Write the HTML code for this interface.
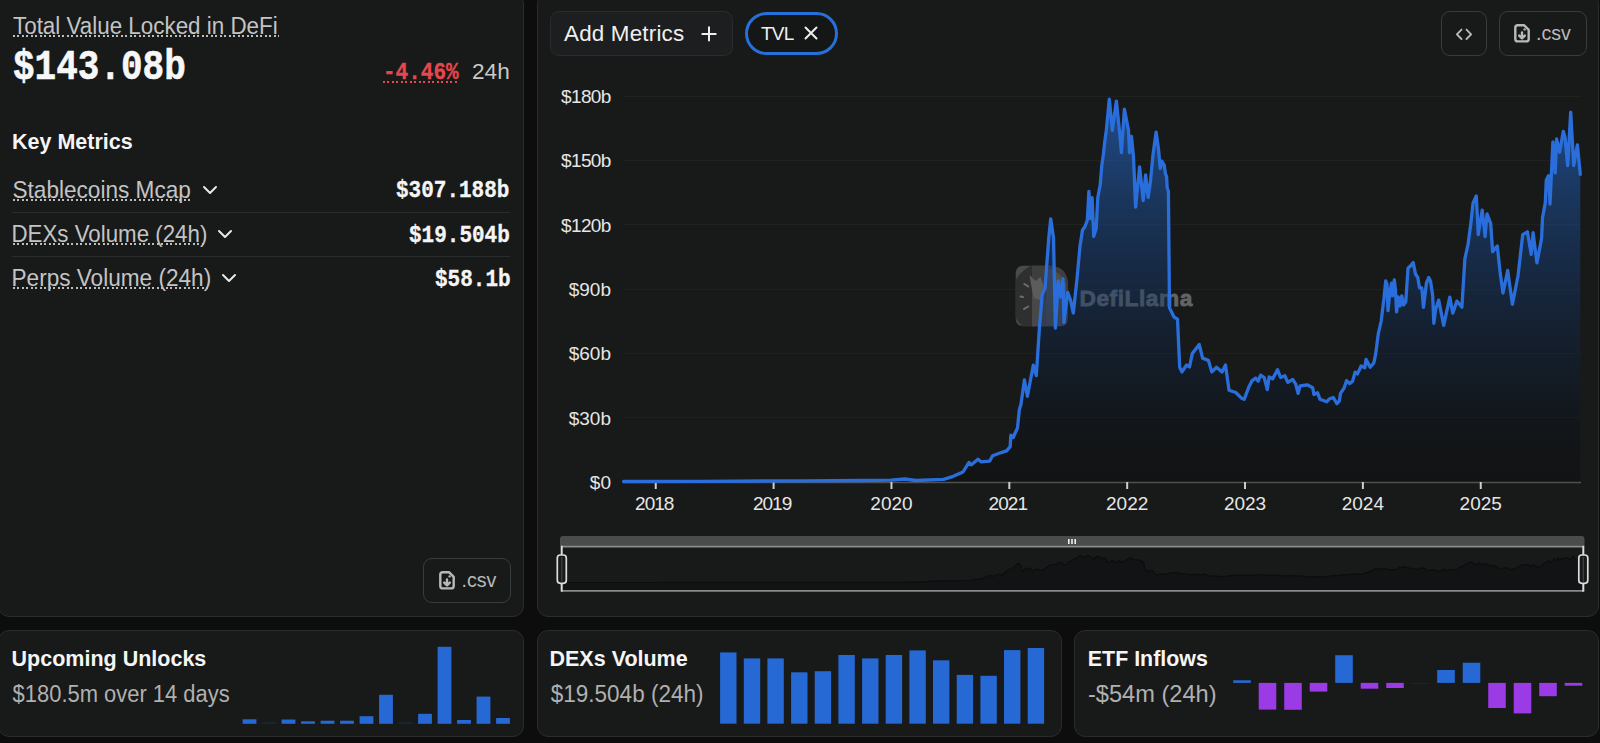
<!DOCTYPE html>
<html><head><meta charset="utf-8">
<style>
html,body{margin:0;padding:0;}
body{width:1600px;height:743px;overflow:hidden;background:#0c0d0c;position:relative;font-family:"Liberation Sans",sans-serif;}
.card{position:absolute;background:#181919;border:1px solid #2a2b2d;border-radius:11px;box-sizing:border-box;}
.t{position:absolute;white-space:nowrap;line-height:1;}
.mono{font-family:"Liberation Mono",monospace;font-weight:bold;}
.dots{position:absolute;height:2px;background:repeating-linear-gradient(90deg,#bdbdbd 0 2px,transparent 2px 4.5px);}
.btn{position:absolute;box-sizing:border-box;border-radius:9px;}
</style></head><body>

<!-- cards -->
<div class="card" style="left:-2px;top:-7px;width:525.5px;height:624px;"></div>
<div class="card" style="left:537px;top:-7px;width:1062px;height:624px;"></div>
<div class="card" style="left:-2px;top:629.5px;width:525.5px;height:107px;"></div>
<div class="card" style="left:537px;top:629.5px;width:524.5px;height:107px;"></div>
<div class="card" style="left:1074.3px;top:629.5px;width:524.7px;height:107px;"></div>

<!-- left card -->
<div class="t" style="left:13px;top:15.8px;font-size:22.4px;color:#c4c4c4;transform:scaleY(1.06);transform-origin:0 18.5px;">Total Value Locked in DeFi</div>
<div class="dots" style="left:13px;top:35px;width:266px;"></div>
<div class="t mono" style="left:13px;top:52px;font-size:36px;color:#f7f7f7;transform:scaleY(1.16);transform-origin:0 27.6px;-webkit-text-stroke:0.5px #f7f7f7;">$143.08b</div>
<div class="t mono" style="left:383px;top:62.5px;font-size:21px;color:#e5484d;transform:scaleY(1.16);transform-origin:0 16.1px;-webkit-text-stroke:0.3px #e5484d;">-4.46%</div>
<div class="dots" style="left:382.5px;top:80.6px;width:76px;background:repeating-linear-gradient(90deg,#e5484d 0 2px,transparent 2px 4.5px);"></div>
<div class="t" style="left:472px;top:60.8px;font-size:22.6px;color:#c8c8c8;">24h</div>

<div class="t" style="left:12px;top:132.2px;font-size:21.5px;font-weight:bold;color:#f5f5f5;transform:scaleY(1.05);transform-origin:0 17.8px;">Key Metrics</div>

<div class="t" style="left:12.5px;top:179.5px;font-size:22.6px;color:#c4c4c4;transform:scaleY(1.07);transform-origin:0 18.6px;">Stablecoins Mcap</div>
<div class="dots" style="left:13px;top:198.6px;width:178px;"></div>
<svg style="position:absolute;left:202px;top:185px" width="16" height="10"><path d="M2 2 L8 8 L14 2" fill="none" stroke="#e8e8e8" stroke-width="2" stroke-linecap="round" stroke-linejoin="round"/></svg>
<div class="t mono" style="left:396px;top:181.3px;font-size:21px;color:#f5f5f5;transform:scaleY(1.16);transform-origin:0 16.1px;-webkit-text-stroke:0.3px #f5f5f5;">$307.188b</div>
<div style="position:absolute;left:12px;top:211.5px;width:498px;height:1px;background:#2a2b2d;"></div>

<div class="t" style="left:11.5px;top:224px;font-size:22.3px;color:#c4c4c4;transform:scaleY(1.07);transform-origin:0 18.4px;">DEXs Volume (24h)</div>
<div class="dots" style="left:13px;top:243px;width:193px;"></div>
<svg style="position:absolute;left:217px;top:229px" width="16" height="10"><path d="M2 2 L8 8 L14 2" fill="none" stroke="#e8e8e8" stroke-width="2" stroke-linecap="round" stroke-linejoin="round"/></svg>
<div class="t mono" style="left:409px;top:225.5px;font-size:21px;color:#f5f5f5;transform:scaleY(1.16);transform-origin:0 16.1px;-webkit-text-stroke:0.3px #f5f5f5;">$19.504b</div>
<div style="position:absolute;left:12px;top:255.5px;width:498px;height:1px;background:#2a2b2d;"></div>

<div class="t" style="left:11.5px;top:267.8px;font-size:22.6px;color:#c4c4c4;transform:scaleY(1.07);transform-origin:0 18.6px;">Perps Volume (24h)</div>
<div class="dots" style="left:13px;top:287px;width:197px;"></div>
<svg style="position:absolute;left:221px;top:273px" width="16" height="10"><path d="M2 2 L8 8 L14 2" fill="none" stroke="#e8e8e8" stroke-width="2" stroke-linecap="round" stroke-linejoin="round"/></svg>
<div class="t mono" style="left:435px;top:270px;font-size:21px;color:#f5f5f5;transform:scaleY(1.16);transform-origin:0 16.1px;-webkit-text-stroke:0.3px #f5f5f5;">$58.1b</div>

<!-- left csv button -->
<div class="btn" style="left:423px;top:558px;width:88px;height:45px;border:1.5px solid #3a3b3d;"></div>

<!-- chart header -->
<div class="btn" style="left:550px;top:11px;width:183px;height:45px;border:1px solid #2a2b2d;background:#1d1e1f;"></div>
<div class="t" style="left:564px;top:22.6px;font-size:22.4px;letter-spacing:0.2px;color:#f0f0f0;">Add Metrics</div>
<svg style="position:absolute;left:700.5px;top:25.5px" width="17" height="17"><path d="M8 1.3 V14.5 M1.3 7.9 H14.7" stroke="#eeeeee" stroke-width="2" stroke-linecap="round"/></svg>
<div class="btn" style="left:745px;top:12px;width:93px;height:43px;border:3px solid #2670d9;border-radius:22px;background:#151616;"></div>
<div class="t" style="left:761px;top:23.6px;font-size:19px;letter-spacing:-0.8px;color:#f0f0f0;">TVL</div>
<svg style="position:absolute;left:803px;top:25px" width="16" height="16"><path d="M2.5 2.5 L13.5 13.5 M13.5 2.5 L2.5 13.5" stroke="#eeeeee" stroke-width="2" stroke-linecap="round"/></svg>

<div class="btn" style="left:1441px;top:11px;width:46px;height:45px;border:1.5px solid #3a3b3d;"></div>
<svg style="position:absolute;left:1454.5px;top:27.5px" width="19" height="13"><path d="M6.5 1.6 L1.9 6.3 L6.5 11 M11.5 1.6 L16.1 6.3 L11.5 11" fill="none" stroke="#b8b8b8" stroke-width="1.9" stroke-linecap="round" stroke-linejoin="round"/></svg>
<div class="btn" style="left:1499px;top:11px;width:88px;height:45px;border:1.5px solid #3a3b3d;"></div>

<svg style="position:absolute;left:1514px;top:24px" width="17" height="20" viewBox="0 0 17 20"><path d="M3.8 1.3 H10.2 L14.7 5.8 V14.9 Q14.7 17.4 12.2 17.4 H3.8 Q1.3 17.4 1.3 14.9 V3.8 Q1.3 1.3 3.8 1.3 Z" fill="none" stroke="#b9b9b9" stroke-width="2.4" stroke-linejoin="round"/><circle cx="10.6" cy="5.4" r="1.2" fill="#b9b9b9"/><path d="M8 8.5 V14.2 M5.2 11.6 L8 14.4 L10.8 11.6" fill="none" stroke="#b9b9b9" stroke-width="2.4" stroke-linecap="round" stroke-linejoin="round"/></svg><div class="t" style="left:1536px;top:23.5px;font-size:19.6px;color:#b9b9b9;">.csv</div>
<svg style="position:absolute;left:438.5px;top:571px" width="17" height="20" viewBox="0 0 17 20"><path d="M3.8 1.3 H10.2 L14.7 5.8 V14.9 Q14.7 17.4 12.2 17.4 H3.8 Q1.3 17.4 1.3 14.9 V3.8 Q1.3 1.3 3.8 1.3 Z" fill="none" stroke="#b9b9b9" stroke-width="2.4" stroke-linejoin="round"/><circle cx="10.6" cy="5.4" r="1.2" fill="#b9b9b9"/><path d="M8 8.5 V14.2 M5.2 11.6 L8 14.4 L10.8 11.6" fill="none" stroke="#b9b9b9" stroke-width="2.4" stroke-linecap="round" stroke-linejoin="round"/></svg><div class="t" style="left:461.5px;top:570.5px;font-size:19.6px;color:#b9b9b9;">.csv</div>

<!-- bottom cards -->
<div class="t" style="left:11.6px;top:648.6px;font-size:21.5px;font-weight:bold;color:#f5f5f5;transform:scaleY(1.05);transform-origin:0 17px;">Upcoming Unlocks</div>
<div class="t" style="left:12.6px;top:684.4px;font-size:21.95px;color:#b0b0b0;transform:scaleY(1.08);transform-origin:0 17.7px;">$180.5m over 14 days</div>
<div class="t" style="left:549.5px;top:648.6px;font-size:21.5px;font-weight:bold;color:#f5f5f5;transform:scaleY(1.05);transform-origin:0 17px;">DEXs Volume</div>
<div class="t" style="left:550.8px;top:684px;font-size:22.5px;color:#b0b0b0;transform:scaleY(1.07);transform-origin:0 17.9px;">$19.504b (24h)</div>
<div class="t" style="left:1087.8px;top:648.6px;font-size:21.4px;font-weight:bold;color:#f5f5f5;transform:scaleY(1.05);transform-origin:0 17px;">ETF Inflows</div>
<div class="t" style="left:1088px;top:683px;font-size:23.6px;color:#b0b0b0;transform:scaleY(1.05);transform-origin:0 18.4px;">-$54m (24h)</div>
<svg style="position:absolute;left:0;top:0" width="1600" height="743" viewBox="0 0 1600 743">
<defs>
<linearGradient id="ag" x1="0" y1="96" x2="0" y2="482" gradientUnits="userSpaceOnUse">
<stop offset="0" stop-color="#2670d9" stop-opacity="0.6"/>
<stop offset="1" stop-color="#000" stop-opacity="0.25"/>
</linearGradient>
</defs>
<line x1="623" x2="1581" y1="96.5" y2="96.5" stroke="#1f2020" stroke-width="1"/><line x1="623" x2="1581" y1="160.5" y2="160.5" stroke="#1f2020" stroke-width="1"/><line x1="623" x2="1581" y1="224.5" y2="224.5" stroke="#1f2020" stroke-width="1"/><line x1="623" x2="1581" y1="289.5" y2="289.5" stroke="#1f2020" stroke-width="1"/><line x1="623" x2="1581" y1="353.5" y2="353.5" stroke="#1f2020" stroke-width="1"/><line x1="623" x2="1581" y1="417.5" y2="417.5" stroke="#1f2020" stroke-width="1"/>
<g font-family="Liberation Sans" font-size="19" fill="#e6e6e6"><text x="610.8" y="103" text-anchor="end" letter-spacing="-0.6">$180b</text><text x="610.8" y="167.3" text-anchor="end" letter-spacing="-0.6">$150b</text><text x="610.8" y="231.7" text-anchor="end" letter-spacing="-0.6">$120b</text><text x="611" y="296" text-anchor="end">$90b</text><text x="611" y="360.3" text-anchor="end">$60b</text><text x="611" y="424.7" text-anchor="end">$30b</text><text x="611" y="489" text-anchor="end">$0</text></g>
<g font-family="Liberation Sans" font-size="19" fill="#e6e6e6"><text x="654.25" y="510" text-anchor="middle" letter-spacing="-0.95">2018</text><text x="772.11" y="510" text-anchor="middle" letter-spacing="-0.95">2019</text><text x="891.46" y="510" text-anchor="middle">2020</text><text x="1007.82" y="510" text-anchor="middle" letter-spacing="-0.95">2021</text><text x="1127.18" y="510" text-anchor="middle">2022</text><text x="1245.03" y="510" text-anchor="middle">2023</text><text x="1362.89" y="510" text-anchor="middle">2024</text><text x="1480.75" y="510" text-anchor="middle">2025</text></g>
<g id="wm">
<defs><clipPath id="wmc"><path d="M1023.7 265.7 H1048 Q1068 265.7 1068 285.7 V318.3 Q1068 326.3 1060 326.3 H1023.7 Q1015.7 326.3 1015.7 318.3 V273.7 Q1015.7 265.7 1023.7 265.7 Z"/></clipPath></defs>
<g clip-path="url(#wmc)">
<rect x="1015" y="265" width="60" height="62" fill="#4a4a4a"/>
<circle cx="1048" cy="299" r="37.5" fill="#2f2f2f"/>
<defs><clipPath id="wmr"><rect x="1032" y="260" width="50" height="70"/></clipPath></defs>
<circle cx="1048" cy="299" r="37.5" fill="#3e3e3e" clip-path="url(#wmr)"/>
<path d="M1032 292 L1040 296 L1046 300 L1046 327 H1032 Z" fill="#484848"/>
<path d="M1029.5 275 L1035.5 281 L1040.5 277 L1043.5 285 L1044.5 296 L1039.5 300 L1034 298 L1032 290 Z" fill="#5c5c5c"/>
<path d="M1046 268 Q1060 270 1066 284 V326 H1046 Z" fill="#4e4e4e"/>
</g>
<g stroke="#6e6e6e" stroke-width="2" stroke-linecap="round"><line x1="1024.3" y1="284" x2="1028.3" y2="286.5"/><line x1="1020.5" y1="296.5" x2="1023" y2="297"/><line x1="1024" y1="309" x2="1028.2" y2="306.5"/></g>
<text x="1079.5" y="306" font-family="Liberation Sans" font-weight="bold" font-size="22.7" letter-spacing="0.55" fill="#636363" stroke="#636363" stroke-width="0.8">DefiLlama</text>
</g>
<path d="M623.6 481.5 L700 481.3 L805 480.8 L860 480.5 L891 480.2 L904.8 479 L915.7 480.5 L943.6 479.3 L953.3 476.3 L963 472 L969 462.4 L971.4 464.8 L978 459.3 L981 461.8 L989.6 461.2 L992.6 455.7 L999.3 453.3 L1006.6 450.9 L1010.2 446.6 L1010.8 435.1 L1013.2 437.5 L1017.5 427.9 L1019.3 410 L1021 404 L1024.4 380 L1027.4 396.3 L1033.3 365.2 L1036.3 375.6 L1039.3 329.6 L1042.2 294.2 L1045 288.5 L1048.8 237.7 L1050.7 218.8 L1053.5 237.7 L1055.4 328 L1058.2 281 L1060.5 297 L1063 279 L1064 322.4 L1067.7 292.3 L1070.5 300 L1073.3 313 L1077 279 L1080 246 L1082.5 230 L1084.9 226.8 L1087.3 220.3 L1088.9 191.3 L1090.5 218.7 L1092.1 197.7 L1093.7 236.5 L1096.2 228.4 L1097.8 197.7 L1100.2 184.8 L1101.8 165.5 L1103.4 154.2 L1105 139.7 L1106.3 130.4 L1109.3 99.1 L1112.3 130.4 L1116.4 101.1 L1120.4 140.5 L1121.4 152.6 L1124.4 109.2 L1128.5 130.4 L1129.5 152.6 L1131.5 136.5 L1133.5 157 L1135.6 207.2 L1139.6 166.8 L1143.2 200.6 L1145.6 174.8 L1148.1 197.4 L1150.5 181.3 L1152.9 155.5 L1156.1 132.1 L1158.5 149 L1160.2 168.4 L1161.8 161.1 L1164.2 165.2 L1165.5 174 L1166.6 176.5 L1167.2 188 L1168.4 191 L1169.5 307.8 L1174 317 L1177.5 319.2 L1179.7 367.3 L1182 371.9 L1186.6 365 L1189.5 367 L1192.3 353.6 L1199.2 344.4 L1202.6 358.1 L1208.4 360.4 L1211.8 371.9 L1216.4 367.3 L1222.1 371.9 L1225.5 365 L1229 390.2 L1235.8 392.5 L1241.5 398.2 L1244.2 399.3 L1248.5 387.8 L1252.1 380.6 L1255.7 378.1 L1258.2 381.2 L1260.6 375.1 L1264.2 377.5 L1267.3 389.6 L1269.1 376.9 L1272.7 378.7 L1277.5 369.7 L1280.6 377.5 L1284.8 375.7 L1287.8 382.4 L1292.7 379.4 L1295.7 384.2 L1298.1 393.3 L1300 386 L1307.2 384.8 L1312.7 387.8 L1313.9 394.5 L1317.5 392.7 L1320 399.3 L1326.6 401.8 L1329.6 398.7 L1333.3 397.5 L1336.9 403.6 L1339.3 401.2 L1340.5 393.3 L1344.2 387.8 L1346.6 380.6 L1349.6 383.6 L1352.6 381.2 L1355.1 372.1 L1357.5 373.9 L1361.1 366 L1364.8 367.8 L1366 359.4 L1370.2 367.2 L1373.8 363 L1375.7 353.9 L1378.3 333.6 L1381.2 321 L1384 298 L1385.7 281 L1387 284 L1388 310.7 L1389.7 293.5 L1391.5 283.2 L1392.6 295.8 L1394.3 279.8 L1395.5 290 L1396.6 311.9 L1398.3 297 L1400 306 L1401.8 295.8 L1403.5 305 L1405.8 301.5 L1408 268.3 L1410.4 266 L1413.2 262.6 L1415.5 274 L1417.8 277.5 L1419.5 287.8 L1421.8 287.8 L1423.5 307.3 L1426.4 283.2 L1428.7 277.5 L1430.5 281 L1432.7 295.8 L1433.8 323.3 L1435.6 309.6 L1438.7 300.1 L1443.7 325.4 L1449.8 297.1 L1452.8 313.2 L1456.9 301.1 L1461.9 307.2 L1464.9 258.7 L1468 244.5 L1471 222.3 L1473 203.1 L1476.3 196 L1478.3 234.5 L1482.2 210.1 L1485.1 236.5 L1487 213.9 L1490.7 223.3 L1492.6 251.6 L1497.3 245.9 L1500.1 272.3 L1503 293 L1507.7 270.4 L1512.4 304.3 L1518 276 L1522.7 234.6 L1527.4 231.8 L1531.2 254.4 L1533.1 232.7 L1536.9 262.9 L1541.6 238.4 L1542.5 217.7 L1545.3 202.6 L1546.3 180 L1548.5 175.8 L1550 204 L1552.9 141.8 L1555.2 172.9 L1556.6 138.8 L1559.6 152.2 L1563.3 131.4 L1565 137 L1567.7 165.5 L1570.7 112.2 L1573.7 165.5 L1577.4 144.8 L1580.3 174.4 L1580.3 482 L623.6 482 Z" fill="url(#ag)"/>

<line x1="623" x2="1581" y1="482.5" y2="482.5" stroke="#505050" stroke-width="1.5"/>
<line x1="655.75" x2="655.75" y1="482" y2="489" stroke="#cfcfcf" stroke-width="2"/><line x1="773.61" x2="773.61" y1="482" y2="489" stroke="#cfcfcf" stroke-width="2"/><line x1="891.46" x2="891.46" y1="482" y2="489" stroke="#cfcfcf" stroke-width="2"/><line x1="1009.32" x2="1009.32" y1="482" y2="489" stroke="#cfcfcf" stroke-width="2"/><line x1="1127.18" x2="1127.18" y1="482" y2="489" stroke="#cfcfcf" stroke-width="2"/><line x1="1245.03" x2="1245.03" y1="482" y2="489" stroke="#cfcfcf" stroke-width="2"/><line x1="1362.89" x2="1362.89" y1="482" y2="489" stroke="#cfcfcf" stroke-width="2"/><line x1="1480.75" x2="1480.75" y1="482" y2="489" stroke="#cfcfcf" stroke-width="2"/>
<path d="M623.6 481.5 L700 481.3 L805 480.8 L860 480.5 L891 480.2 L904.8 479 L915.7 480.5 L943.6 479.3 L953.3 476.3 L963 472 L969 462.4 L971.4 464.8 L978 459.3 L981 461.8 L989.6 461.2 L992.6 455.7 L999.3 453.3 L1006.6 450.9 L1010.2 446.6 L1010.8 435.1 L1013.2 437.5 L1017.5 427.9 L1019.3 410 L1021 404 L1024.4 380 L1027.4 396.3 L1033.3 365.2 L1036.3 375.6 L1039.3 329.6 L1042.2 294.2 L1045 288.5 L1048.8 237.7 L1050.7 218.8 L1053.5 237.7 L1055.4 328 L1058.2 281 L1060.5 297 L1063 279 L1064 322.4 L1067.7 292.3 L1070.5 300 L1073.3 313 L1077 279 L1080 246 L1082.5 230 L1084.9 226.8 L1087.3 220.3 L1088.9 191.3 L1090.5 218.7 L1092.1 197.7 L1093.7 236.5 L1096.2 228.4 L1097.8 197.7 L1100.2 184.8 L1101.8 165.5 L1103.4 154.2 L1105 139.7 L1106.3 130.4 L1109.3 99.1 L1112.3 130.4 L1116.4 101.1 L1120.4 140.5 L1121.4 152.6 L1124.4 109.2 L1128.5 130.4 L1129.5 152.6 L1131.5 136.5 L1133.5 157 L1135.6 207.2 L1139.6 166.8 L1143.2 200.6 L1145.6 174.8 L1148.1 197.4 L1150.5 181.3 L1152.9 155.5 L1156.1 132.1 L1158.5 149 L1160.2 168.4 L1161.8 161.1 L1164.2 165.2 L1165.5 174 L1166.6 176.5 L1167.2 188 L1168.4 191 L1169.5 307.8 L1174 317 L1177.5 319.2 L1179.7 367.3 L1182 371.9 L1186.6 365 L1189.5 367 L1192.3 353.6 L1199.2 344.4 L1202.6 358.1 L1208.4 360.4 L1211.8 371.9 L1216.4 367.3 L1222.1 371.9 L1225.5 365 L1229 390.2 L1235.8 392.5 L1241.5 398.2 L1244.2 399.3 L1248.5 387.8 L1252.1 380.6 L1255.7 378.1 L1258.2 381.2 L1260.6 375.1 L1264.2 377.5 L1267.3 389.6 L1269.1 376.9 L1272.7 378.7 L1277.5 369.7 L1280.6 377.5 L1284.8 375.7 L1287.8 382.4 L1292.7 379.4 L1295.7 384.2 L1298.1 393.3 L1300 386 L1307.2 384.8 L1312.7 387.8 L1313.9 394.5 L1317.5 392.7 L1320 399.3 L1326.6 401.8 L1329.6 398.7 L1333.3 397.5 L1336.9 403.6 L1339.3 401.2 L1340.5 393.3 L1344.2 387.8 L1346.6 380.6 L1349.6 383.6 L1352.6 381.2 L1355.1 372.1 L1357.5 373.9 L1361.1 366 L1364.8 367.8 L1366 359.4 L1370.2 367.2 L1373.8 363 L1375.7 353.9 L1378.3 333.6 L1381.2 321 L1384 298 L1385.7 281 L1387 284 L1388 310.7 L1389.7 293.5 L1391.5 283.2 L1392.6 295.8 L1394.3 279.8 L1395.5 290 L1396.6 311.9 L1398.3 297 L1400 306 L1401.8 295.8 L1403.5 305 L1405.8 301.5 L1408 268.3 L1410.4 266 L1413.2 262.6 L1415.5 274 L1417.8 277.5 L1419.5 287.8 L1421.8 287.8 L1423.5 307.3 L1426.4 283.2 L1428.7 277.5 L1430.5 281 L1432.7 295.8 L1433.8 323.3 L1435.6 309.6 L1438.7 300.1 L1443.7 325.4 L1449.8 297.1 L1452.8 313.2 L1456.9 301.1 L1461.9 307.2 L1464.9 258.7 L1468 244.5 L1471 222.3 L1473 203.1 L1476.3 196 L1478.3 234.5 L1482.2 210.1 L1485.1 236.5 L1487 213.9 L1490.7 223.3 L1492.6 251.6 L1497.3 245.9 L1500.1 272.3 L1503 293 L1507.7 270.4 L1512.4 304.3 L1518 276 L1522.7 234.6 L1527.4 231.8 L1531.2 254.4 L1533.1 232.7 L1536.9 262.9 L1541.6 238.4 L1542.5 217.7 L1545.3 202.6 L1546.3 180 L1548.5 175.8 L1550 204 L1552.9 141.8 L1555.2 172.9 L1556.6 138.8 L1559.6 152.2 L1563.3 131.4 L1565 137 L1567.7 165.5 L1570.7 112.2 L1573.7 165.5 L1577.4 144.8 L1580.3 174.4" fill="none" stroke="#2a6edb" stroke-width="3.3" stroke-linejoin="round" stroke-linecap="round"/>
<!-- slider -->
<path d="M560 546 V539 Q560 536 563 536 H1581.5 Q1584.5 536 1584.5 539 V546 Z" fill="#4a4b4b"/>
<path d="M561.5 582.5 L643.1 582.5 L755.3 582.4 L814 582.4 L847.2 582.4 L861.9 582.3 L873.5 582.4 L903.3 582.3 L913.7 582.1 L924.1 581.8 L930.5 581.1 L933 581.3 L940.1 580.9 L943.3 581.1 L952.5 581 L955.7 580.6 L962.8 580.5 L970.6 580.3 L974.5 580 L975.1 579.2 L977.7 579.3 L982.3 578.7 L984.2 577.4 L986 577 L989.7 575.3 L992.9 576.4 L999.2 574.2 L1002.4 575 L1005.6 571.7 L1008.7 569.2 L1011.7 568.8 L1015.7 565.2 L1017.8 563.8 L1020.7 565.2 L1022.8 571.6 L1025.8 568.2 L1028.2 569.4 L1030.9 568.1 L1032 571.2 L1035.9 569.1 L1038.9 569.6 L1041.9 570.5 L1045.8 568.1 L1049.1 565.8 L1051.7 564.6 L1054.3 564.4 L1056.9 563.9 L1058.6 561.9 L1060.3 563.8 L1062 562.3 L1063.7 565.1 L1066.4 564.5 L1068.1 562.3 L1070.6 561.4 L1072.3 560.1 L1074 559.3 L1075.8 558.2 L1077.1 557.6 L1080.4 555.4 L1083.6 557.6 L1087.9 555.5 L1092.2 558.3 L1093.3 559.1 L1096.5 556.1 L1100.9 557.6 L1101.9 559.1 L1104.1 558 L1106.2 559.5 L1108.4 563 L1112.7 560.2 L1116.6 562.5 L1119.1 560.7 L1121.8 562.3 L1124.4 561.2 L1126.9 559.4 L1130.3 557.7 L1132.9 558.9 L1134.7 560.3 L1136.4 559.7 L1139 560 L1140.4 560.7 L1141.6 560.8 L1142.2 561.7 L1143.5 561.9 L1144.7 570.1 L1149.5 570.8 L1153.2 571 L1155.6 574.4 L1158 574.7 L1162.9 574.2 L1166 574.3 L1169 573.4 L1176.4 572.7 L1180 573.7 L1186.2 573.9 L1189.8 574.7 L1194.8 574.4 L1200.9 574.7 L1204.5 574.2 L1208.2 576 L1215.5 576.2 L1221.6 576.6 L1224.5 576.6 L1229.1 575.8 L1232.9 575.3 L1236.7 575.1 L1239.4 575.4 L1242 574.9 L1245.8 575.1 L1249.1 575.9 L1251.1 575 L1254.9 575.2 L1260 574.5 L1263.3 575.1 L1267.8 575 L1271 575.4 L1276.3 575.2 L1279.5 575.6 L1282 576.2 L1284.1 575.7 L1291.8 575.6 L1297.6 575.8 L1298.9 576.3 L1302.8 576.2 L1305.4 576.6 L1312.5 576.8 L1315.7 576.6 L1319.6 576.5 L1323.5 576.9 L1326.1 576.8 L1327.3 576.2 L1331.3 575.8 L1333.8 575.3 L1337.1 575.5 L1340.3 575.4 L1342.9 574.7 L1345.5 574.8 L1349.3 574.3 L1353.3 574.4 L1354.6 573.8 L1359.1 574.4 L1362.9 574.1 L1364.9 573.4 L1367.7 572 L1370.8 571.1 L1373.8 569.5 L1375.6 568.2 L1377 568.5 L1378.1 570.4 L1379.9 569.1 L1381.8 568.4 L1383 569.3 L1384.8 568.2 L1386.1 568.9 L1387.3 570.4 L1389.1 569.4 L1390.9 570 L1392.8 569.3 L1394.6 570 L1397.1 569.7 L1399.4 567.3 L1402 567.2 L1405 566.9 L1407.5 567.8 L1409.9 568 L1411.7 568.7 L1414.2 568.7 L1416 570.1 L1419.1 568.4 L1421.6 568 L1423.5 568.2 L1425.8 569.3 L1427 571.2 L1428.9 570.3 L1432.2 569.6 L1437.6 571.4 L1444.1 569.4 L1447.3 570.5 L1451.7 569.7 L1457 570.1 L1460.2 566.7 L1463.5 565.7 L1466.7 564.1 L1468.9 562.7 L1472.4 562.2 L1474.5 565 L1478.7 563.2 L1481.8 565.1 L1483.8 563.5 L1487.8 564.2 L1489.8 566.2 L1494.8 565.8 L1497.8 567.6 L1500.9 569.1 L1505.9 567.5 L1511 569.9 L1516.9 567.9 L1522 565 L1527 564.8 L1531 566.4 L1533.1 564.8 L1537.1 567 L1542.2 565.2 L1543.1 563.8 L1546.1 562.7 L1547.2 561.1 L1549.5 560.8 L1551.1 562.8 L1554.2 558.4 L1556.7 560.6 L1558.2 558.2 L1561.4 559.1 L1565.3 557.6 L1567.2 558 L1570 560.1 L1573.2 556.3 L1576.4 560.1 L1580.4 558.6 L1583.5 560.7 L1583.5 590 L561.5 590 Z" fill="#121314"/>
<path d="M561.5 582.5 L643.1 582.5 L755.3 582.4 L814 582.4 L847.2 582.4 L861.9 582.3 L873.5 582.4 L903.3 582.3 L913.7 582.1 L924.1 581.8 L930.5 581.1 L933 581.3 L940.1 580.9 L943.3 581.1 L952.5 581 L955.7 580.6 L962.8 580.5 L970.6 580.3 L974.5 580 L975.1 579.2 L977.7 579.3 L982.3 578.7 L984.2 577.4 L986 577 L989.7 575.3 L992.9 576.4 L999.2 574.2 L1002.4 575 L1005.6 571.7 L1008.7 569.2 L1011.7 568.8 L1015.7 565.2 L1017.8 563.8 L1020.7 565.2 L1022.8 571.6 L1025.8 568.2 L1028.2 569.4 L1030.9 568.1 L1032 571.2 L1035.9 569.1 L1038.9 569.6 L1041.9 570.5 L1045.8 568.1 L1049.1 565.8 L1051.7 564.6 L1054.3 564.4 L1056.9 563.9 L1058.6 561.9 L1060.3 563.8 L1062 562.3 L1063.7 565.1 L1066.4 564.5 L1068.1 562.3 L1070.6 561.4 L1072.3 560.1 L1074 559.3 L1075.8 558.2 L1077.1 557.6 L1080.4 555.4 L1083.6 557.6 L1087.9 555.5 L1092.2 558.3 L1093.3 559.1 L1096.5 556.1 L1100.9 557.6 L1101.9 559.1 L1104.1 558 L1106.2 559.5 L1108.4 563 L1112.7 560.2 L1116.6 562.5 L1119.1 560.7 L1121.8 562.3 L1124.4 561.2 L1126.9 559.4 L1130.3 557.7 L1132.9 558.9 L1134.7 560.3 L1136.4 559.7 L1139 560 L1140.4 560.7 L1141.6 560.8 L1142.2 561.7 L1143.5 561.9 L1144.7 570.1 L1149.5 570.8 L1153.2 571 L1155.6 574.4 L1158 574.7 L1162.9 574.2 L1166 574.3 L1169 573.4 L1176.4 572.7 L1180 573.7 L1186.2 573.9 L1189.8 574.7 L1194.8 574.4 L1200.9 574.7 L1204.5 574.2 L1208.2 576 L1215.5 576.2 L1221.6 576.6 L1224.5 576.6 L1229.1 575.8 L1232.9 575.3 L1236.7 575.1 L1239.4 575.4 L1242 574.9 L1245.8 575.1 L1249.1 575.9 L1251.1 575 L1254.9 575.2 L1260 574.5 L1263.3 575.1 L1267.8 575 L1271 575.4 L1276.3 575.2 L1279.5 575.6 L1282 576.2 L1284.1 575.7 L1291.8 575.6 L1297.6 575.8 L1298.9 576.3 L1302.8 576.2 L1305.4 576.6 L1312.5 576.8 L1315.7 576.6 L1319.6 576.5 L1323.5 576.9 L1326.1 576.8 L1327.3 576.2 L1331.3 575.8 L1333.8 575.3 L1337.1 575.5 L1340.3 575.4 L1342.9 574.7 L1345.5 574.8 L1349.3 574.3 L1353.3 574.4 L1354.6 573.8 L1359.1 574.4 L1362.9 574.1 L1364.9 573.4 L1367.7 572 L1370.8 571.1 L1373.8 569.5 L1375.6 568.2 L1377 568.5 L1378.1 570.4 L1379.9 569.1 L1381.8 568.4 L1383 569.3 L1384.8 568.2 L1386.1 568.9 L1387.3 570.4 L1389.1 569.4 L1390.9 570 L1392.8 569.3 L1394.6 570 L1397.1 569.7 L1399.4 567.3 L1402 567.2 L1405 566.9 L1407.5 567.8 L1409.9 568 L1411.7 568.7 L1414.2 568.7 L1416 570.1 L1419.1 568.4 L1421.6 568 L1423.5 568.2 L1425.8 569.3 L1427 571.2 L1428.9 570.3 L1432.2 569.6 L1437.6 571.4 L1444.1 569.4 L1447.3 570.5 L1451.7 569.7 L1457 570.1 L1460.2 566.7 L1463.5 565.7 L1466.7 564.1 L1468.9 562.7 L1472.4 562.2 L1474.5 565 L1478.7 563.2 L1481.8 565.1 L1483.8 563.5 L1487.8 564.2 L1489.8 566.2 L1494.8 565.8 L1497.8 567.6 L1500.9 569.1 L1505.9 567.5 L1511 569.9 L1516.9 567.9 L1522 565 L1527 564.8 L1531 566.4 L1533.1 564.8 L1537.1 567 L1542.2 565.2 L1543.1 563.8 L1546.1 562.7 L1547.2 561.1 L1549.5 560.8 L1551.1 562.8 L1554.2 558.4 L1556.7 560.6 L1558.2 558.2 L1561.4 559.1 L1565.3 557.6 L1567.2 558 L1570 560.1 L1573.2 556.3 L1576.4 560.1 L1580.4 558.6 L1583.5 560.7" fill="none" stroke="#0d0d0e" stroke-width="1.2"/>
<line x1="561.5" x2="1583.5" y1="546.6" y2="546.6" stroke="#8a8a8a" stroke-width="1.7"/>
<line x1="561.5" x2="1583.5" y1="590.8" y2="590.8" stroke="#8a8a8a" stroke-width="1.7"/>
<g fill="#f0f0f0"><rect x="1068" y="539" width="1.6" height="5"/><rect x="1071.2" y="539" width="1.6" height="5"/><rect x="1074.4" y="539" width="1.6" height="5"/></g>
<line x1="561.7" x2="561.7" y1="545.8" y2="591.7" stroke="#dcdcdc" stroke-width="2"/>
<line x1="1583.3" x2="1583.3" y1="545.8" y2="591.7" stroke="#dcdcdc" stroke-width="2"/>
<rect x="557.3" y="555" width="9" height="28.3" rx="3" fill="#181919" stroke="#dcdcdc" stroke-width="1.7"/>
<rect x="1578.8" y="555" width="9" height="28.3" rx="3" fill="#181919" stroke="#dcdcdc" stroke-width="1.7"/>
<line x1="561.8" x2="561.8" y1="557" y2="581.5" stroke="#4a4a4a" stroke-width="1"/>
<line x1="1583.3" x2="1583.3" y1="557" y2="581.5" stroke="#4a4a4a" stroke-width="1"/>
<rect x="242.6" y="719.3" width="13.8" height="4.5" fill="#2669d4"/><rect x="262.1" y="722.4" width="13.8" height="1.4" fill="#1b2a3f"/><rect x="281.6" y="719.5" width="13.8" height="4.3" fill="#2669d4"/><rect x="301.1" y="721.3" width="13.8" height="2.5" fill="#2669d4"/><rect x="320.6" y="720.7" width="13.8" height="3.1" fill="#2669d4"/><rect x="340.1" y="720.7" width="13.8" height="3.1" fill="#2669d4"/><rect x="359.6" y="716.2" width="13.8" height="7.6" fill="#2669d4"/><rect x="379.1" y="694.8" width="13.8" height="29.0" fill="#2669d4"/><rect x="398.6" y="722.4" width="13.8" height="1.4" fill="#1b2a3f"/><rect x="418.1" y="713.8" width="13.8" height="10.0" fill="#2669d4"/><rect x="437.6" y="646.8" width="13.8" height="77.0" fill="#2669d4"/><rect x="457.1" y="720.0" width="13.8" height="3.8" fill="#2669d4"/><rect x="476.6" y="696.6" width="13.8" height="27.2" fill="#2669d4"/><rect x="496.1" y="718.0" width="13.8" height="5.8" fill="#2669d4"/><rect x="720.1" y="652.4" width="16.4" height="71.3" fill="#2669d4"/><rect x="743.8" y="658.4" width="16.4" height="65.3" fill="#2669d4"/><rect x="767.4" y="658.4" width="16.4" height="65.3" fill="#2669d4"/><rect x="791.1" y="672.3" width="16.4" height="51.4" fill="#2669d4"/><rect x="814.7" y="671.2" width="16.4" height="52.5" fill="#2669d4"/><rect x="838.4" y="655.0" width="16.4" height="68.7" fill="#2669d4"/><rect x="862.1" y="658.4" width="16.4" height="65.3" fill="#2669d4"/><rect x="885.7" y="655.0" width="16.4" height="68.7" fill="#2669d4"/><rect x="909.4" y="650.4" width="16.4" height="73.3" fill="#2669d4"/><rect x="933.0" y="660.3" width="16.4" height="63.4" fill="#2669d4"/><rect x="956.7" y="674.9" width="16.4" height="48.8" fill="#2669d4"/><rect x="980.4" y="675.8" width="16.4" height="47.9" fill="#2669d4"/><rect x="1004.0" y="650.1" width="16.4" height="73.6" fill="#2669d4"/><rect x="1027.7" y="648.0" width="16.4" height="75.7" fill="#2669d4"/><rect x="1233.2" y="680.3" width="17.6" height="2.6" fill="#2669d4"/><rect x="1258.7" y="682.9" width="17.6" height="26.7" fill="#9a3be6"/><rect x="1284.2" y="682.9" width="17.6" height="26.9" fill="#9a3be6"/><rect x="1309.7" y="682.9" width="17.6" height="8.7" fill="#9a3be6"/><rect x="1335.2" y="655.2" width="17.6" height="27.7" fill="#2669d4"/><rect x="1360.7" y="682.9" width="17.6" height="5.8" fill="#9a3be6"/><rect x="1386.2" y="682.9" width="17.6" height="5.1" fill="#9a3be6"/><rect x="1411.7" y="682.9" width="17.6" height="1" fill="#2a1f3a"/><rect x="1437.2" y="670.0" width="17.6" height="12.9" fill="#2669d4"/><rect x="1462.7" y="662.7" width="17.6" height="20.2" fill="#2669d4"/><rect x="1488.2" y="682.9" width="17.6" height="25.1" fill="#9a3be6"/><rect x="1513.7" y="682.9" width="17.6" height="30.5" fill="#9a3be6"/><rect x="1539.2" y="682.9" width="17.6" height="13.3" fill="#9a3be6"/><rect x="1564.7" y="682.9" width="17.6" height="2.8" fill="#9a3be6"/>
</svg>
</body></html>
